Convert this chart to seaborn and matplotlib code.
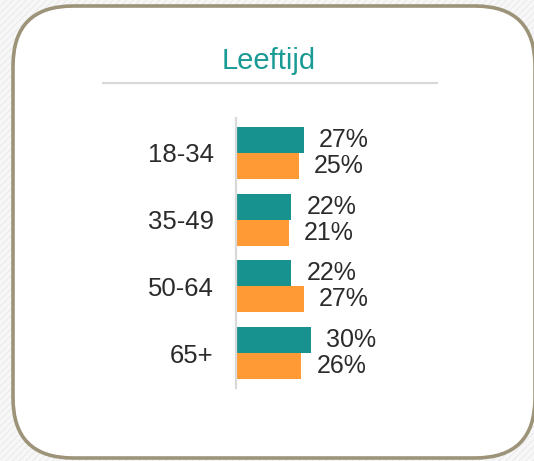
import pandas as pd
import seaborn as sns
import matplotlib.pyplot as plt
from matplotlib.patches import FancyBboxPatch, Rectangle

# data
groepen = ["18-34", "35-49", "50-64", "65+"]
reeks_a = [27, 22, 22, 30]   # teal
reeks_b = [25, 21, 27, 26]   # orange

teal = "#18928E"
orange = "#FF9A35"
tekst = "#2b2b2b"

df = pd.DataFrame({
    "groep": groepen * 2,
    "pct": reeks_a + reeks_b,
    "reeks": ["a"] * len(groepen) + ["b"] * len(groepen),
})

sns.set_theme(style="white")
plt.rcParams["font.family"] = ["Liberation Sans", "DejaVu Sans"]
plt.rcParams["hatch.linewidth"] = 0.6

fig = plt.figure(figsize=(5.34, 4.61), dpi=100)

# background card, drawn in pixel coords
bg = fig.add_axes([0, 0, 1, 1])
bg.set_xlim(0, 534)
bg.set_ylim(461, 0)
bg.axis("off")
bg.add_patch(Rectangle((0, 0), 534, 461, facecolor="#f7f7f7",
                       edgecolor="#e8e8e8", hatch="/////", lw=0))
bg.add_patch(FancyBboxPatch((13, 6), 522, 452,
                            boxstyle="round,pad=0,rounding_size=60",
                            facecolor="white", edgecolor="#9C9378", lw=2.6))
bg.text(269, 69, "Leeftijd", color="#1A9A95", fontsize=21,
        ha="center", va="baseline")
bg.plot([102, 438], [83, 83], color="#d9d9d9", lw=1.6, solid_capstyle="butt")

# bars
ax = fig.add_axes([236 / 534, 73 / 461, 100 / 534, 270 / 461])
ax.patch.set_alpha(0)
sns.barplot(data=df, y="groep", x="pct", hue="reeks", orient="h",
            palette=[teal, orange], width=0.78, saturation=1,
            linewidth=0, legend=False, ax=ax)

for c in ax.containers:
    ax.bar_label(c, fmt="{:.0f}%", padding=11, fontsize=18, color=tekst)

ax.set_xlim(0, 40)
ax.set_ylim(3.52, -0.52)
ax.set_xlabel("")
ax.set_ylabel("")
ax.set_xticks([])
ax.tick_params(axis="y", length=0, pad=16, labelsize=18.5, labelcolor=tekst)
for s in ["top", "right", "bottom"]:
    ax.spines[s].set_visible(False)
ax.spines["left"].set_color("#d9d9d9")
ax.spines["left"].set_linewidth(1.6)

fig.savefig("out.png", dpi=100)
